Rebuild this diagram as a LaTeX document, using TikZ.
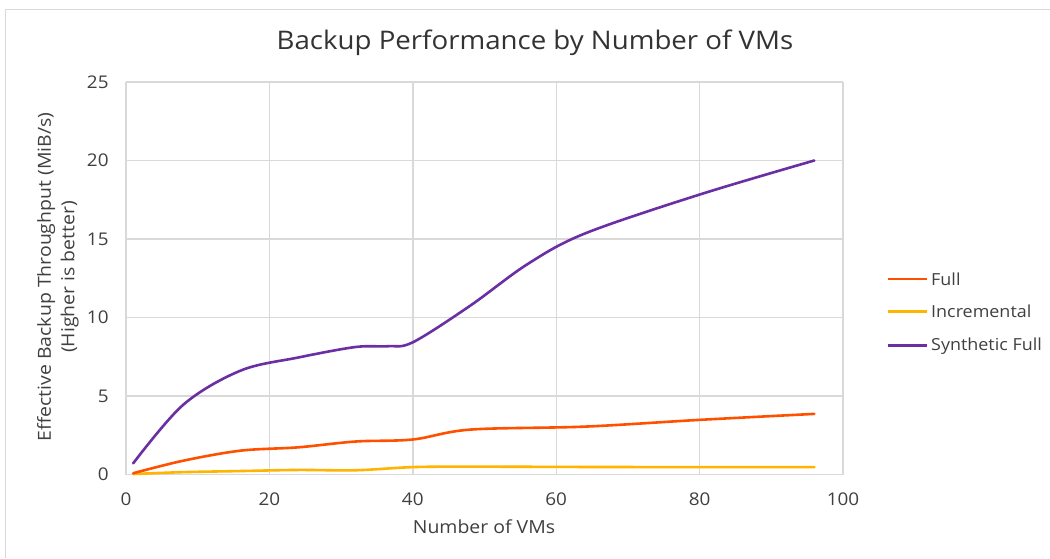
\documentclass[tikz,border=0pt]{standalone}
\usepackage{fontspec}
\setmainfont{Open Sans}[FakeStretch=1.08]
\definecolor{gridc}{HTML}{D9D9D9}
\definecolor{txt}{HTML}{404040}
\definecolor{cfull}{HTML}{FF5000}
\definecolor{cinc}{HTML}{FFB400}
\definecolor{csyn}{HTML}{6A2FA3}
\tikzset{
  gridline/.style={draw=gridc, line width=1.4pt},
  series/.style={line width=2.6pt, line cap=round, line join=round, smooth, tension=0.55},
  tick/.style={text=txt, font=\fontsize{17.5}{17.5}\selectfont, inner sep=0pt},
  axtitle/.style={text=txt, font=\fontsize{18}{23.5}\selectfont, inner sep=0pt},
  legtext/.style={text=txt, font=\fontsize{16.6}{16.6}\selectfont, inner sep=0pt, anchor=west},
}
\begin{document}
\begin{tikzpicture}[x=1pt,y=1pt]
\useasboundingbox (0,0) rectangle (1050,558);
\fill[white] (0,0) rectangle (1050,558);
% chart frame
\draw[gridc, line width=1.5pt] (5.5,0) -- (5.5,548.5) -- (1050,548.5);
% title
\node[text=black!80, font=\fontsize{25.6}{25.6}\selectfont, inner sep=0pt] (title) at (535,515) {Backup Performance by Number of VMs};
\begin{scope}[shift={(126,83.5)}, x=7.17pt, y=15.7pt]
  % grid
  \foreach \gx in {20,40,60,80,100} \draw[gridline] (\gx,0) -- (\gx,25);
  \foreach \gy in {5,10,15,20,25} \draw[gridline] (0,\gy) -- (100,\gy);
  \draw[gridline] (0,25) -- (0,0) -- (100,0);
  % tick labels
  \foreach \gy in {0,5,10,15,20,25} \node[tick, anchor=east] (yt\gy) at (-2.4,\gy) {\gy};
  \foreach \gx in {0,20,40,60,80,100} \node[tick] (xt\gx) at (\gx,-1.55) {\gx};
  % series
  \draw[series, cinc] plot coordinates {(1,0.03) (8,0.15) (16,0.22) (24,0.29) (32,0.27) (40,0.47) (48,0.5) (64,0.48) (80,0.47) (96,0.47)};
  \draw[series, cfull] plot coordinates {(1,0.08) (8,0.88) (16,1.52) (24,1.73) (32,2.1) (40,2.23) (48,2.86) (64,3.05) (80,3.48) (96,3.86)};
  \draw[series, csyn] plot coordinates {(1,0.71) (8,4.45) (16,6.62) (24,7.45) (32,8.12) (36.5,8.17) (40,8.42) (48,10.75) (56,13.4) (64,15.35) (80,17.83) (96,20.0)};
\end{scope}
% axis titles
\node[axtitle] (xtitle) at (484,31) {Number of VMs};
\node[axtitle, rotate=90, align=center] (ytitle) at (58,281) {Effective Backup Throughput (MiB/s)\\(Higher is better)};
% legend
\coordinate (l1a) at (888,279); \coordinate (l1b) at (927,279);
\coordinate (l2a) at (888,246.3); \coordinate (l2b) at (927,246.3);
\coordinate (l3a) at (888,212.3); \coordinate (l3b) at (927,212.3);
\draw[cfull, line width=2.6pt] (l1a) -- (l1b);
\draw[cinc, line width=2.6pt] (l2a) -- (l2b);
\draw[csyn, line width=2.6pt] (l3a) -- (l3b);
\node[legtext] (lg1) at (931,279) {Full};
\node[legtext] (lg2) at (931,246.3) {Incremental};
\node[legtext] (lg3) at (931,212.3) {Synthetic Full};
\end{tikzpicture}
\end{document}
